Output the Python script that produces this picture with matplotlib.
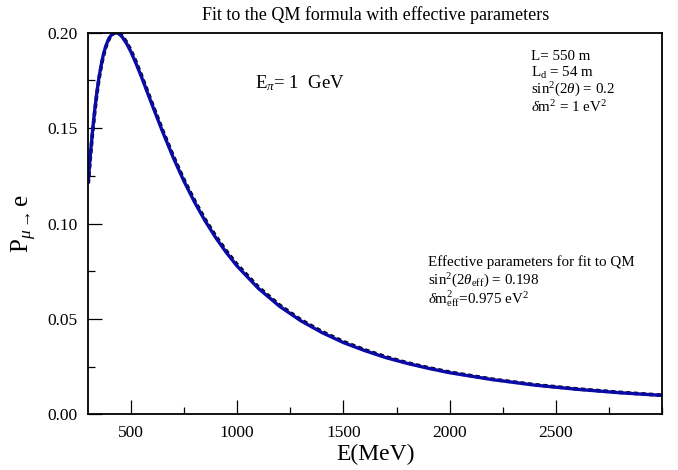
import matplotlib
matplotlib.use('Agg')
import matplotlib.pyplot as plt
from matplotlib.ticker import FixedLocator, MultipleLocator, FormatStrFormatter

plt.rcParams['font.family'] = ['Liberation Serif', 'DejaVu Serif']
plt.rcParams['mathtext.fontset'] = 'custom'
plt.rcParams['mathtext.rm'] = 'Liberation Serif'
plt.rcParams['mathtext.it'] = 'Liberation Serif:italic'
plt.rcParams['mathtext.bf'] = 'Liberation Serif:bold'

# energies (MeV) and probabilities
energy = [300, 310, 320, 330, 340, 350, 360, 370, 380, 390, 400, 410, 420, 430,
          440, 450, 460, 480, 500, 525, 550, 575, 600, 650, 700, 750, 800, 850,
          900, 950, 1000, 1100, 1200, 1300, 1400, 1500, 1600, 1700, 1800, 1900,
          2000, 2200, 2400, 2600, 2800, 3000]
p_exact = [0.1223, 0.1362, 0.1485, 0.1591, 0.1684, 0.1763, 0.1826, 0.1880,
           0.1921, 0.1952, 0.1975, 0.1990, 0.1998, 0.2000, 0.1997, 0.1989,
           0.1977, 0.1944, 0.1901, 0.1838, 0.1769, 0.1696, 0.1623, 0.1480,
           0.1345, 0.1222, 0.1112, 0.1013, 0.0925, 0.0847, 0.0777, 0.0660,
           0.0566, 0.0490, 0.0428, 0.0376, 0.0334, 0.0297, 0.0267, 0.0241,
           0.0218, 0.0182, 0.0153, 0.0131, 0.0113, 0.0099]
p_eff = [0.1210, 0.1350, 0.1474, 0.1581, 0.1675, 0.1755, 0.1819, 0.1874,
         0.1916, 0.1948, 0.1972, 0.1988, 0.1997, 0.2001, 0.1999, 0.1993,
         0.1982, 0.1951, 0.1909, 0.1846, 0.1777, 0.1704, 0.1631, 0.1488,
         0.1353, 0.1230, 0.1120, 0.1021, 0.0933, 0.0855, 0.0785, 0.0667,
         0.0572, 0.0495, 0.0433, 0.0381, 0.0338, 0.0301, 0.0270, 0.0244,
         0.0221, 0.0184, 0.0155, 0.0133, 0.0115, 0.0100]
x_labels = [500, 1000, 1500, 2000, 2500]

fig = plt.figure(figsize=(6.78, 4.70), dpi=100)
ax = fig.add_axes([0.1302, 0.1185, 0.8466, 0.8119])

ax.plot(energy, p_eff, color='black', lw=2.6, ls=(0, (1.2, 0.9)))
ax.plot(energy, p_exact, color='#0a0aa8', lw=2.4)

ax.set_xlim(300, 3000)
ax.set_ylim(0.0, 0.2)
ax.xaxis.set_major_locator(FixedLocator(x_labels))
ax.xaxis.set_minor_locator(MultipleLocator(250))
ax.yaxis.set_major_locator(MultipleLocator(0.05))
ax.yaxis.set_minor_locator(MultipleLocator(0.025))
ax.yaxis.set_major_formatter(FormatStrFormatter('%.2f'))
ax.tick_params(which='both', direction='in', top=False, right=False,
               labelsize=12.5, width=0.9)
ax.tick_params(which='major', length=10, pad=8)
ax.tick_params(which='minor', length=5)
for s in ax.spines.values():
    s.set_linewidth(1.3)

ax.set_xlabel('E(MeV)', fontsize=17, labelpad=2)
ax.set_ylabel(r'$\mathrm{P}_{\mu\rightarrow}\mathrm{e}$', fontsize=18, labelpad=6)
ax.set_title('Fit to the QM formula with effective parameters', fontsize=13, pad=9)

ax.text(0.29, 0.869, r'$\mathrm{E}_{\pi}$= 1  GeV', transform=ax.transAxes,
        fontsize=13.5, va='center')

fs = 10.8
ax.text(0.772, 0.937, 'L= 550 m', transform=ax.transAxes, fontsize=fs, va='center')
ax.text(0.772, 0.895, r'$\mathrm{L}_{\mathrm{d}}$ = 54 m', transform=ax.transAxes,
        fontsize=fs, va='center')
ax.text(0.772, 0.851, r'sin$^2$(2$\theta$) = 0.2', transform=ax.transAxes,
        fontsize=fs, va='center')
ax.text(0.772, 0.804, r'$\delta$m$^2$ = 1 eV$^2$', transform=ax.transAxes,
        fontsize=fs, va='center')

ax.text(0.591, 0.398, 'Effective parameters for fit to QM', transform=ax.transAxes,
        fontsize=fs, va='center')
ax.text(0.591, 0.350, r'sin$^2$(2$\theta_{\mathrm{eff}}$) = 0.198', transform=ax.transAxes,
        fontsize=fs, va='center')
ax.text(0.591, 0.302, r'$\delta$m$^2_{\mathrm{eff}}$=0.975 eV$^2$', transform=ax.transAxes,
        fontsize=fs, va='center')

fig.savefig('out.png', dpi=100)
